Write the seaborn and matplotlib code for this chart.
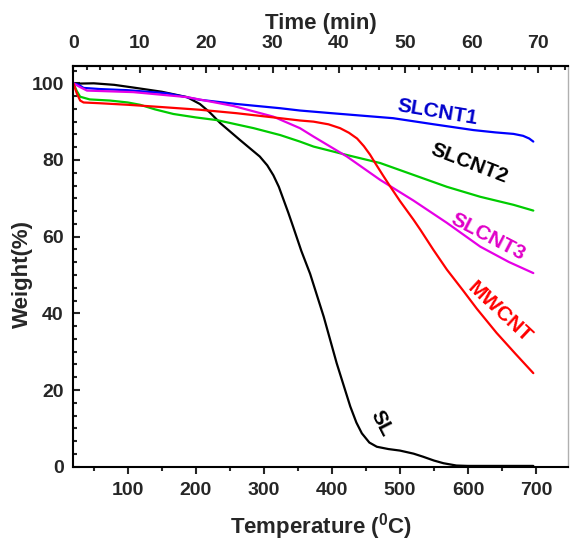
import numpy as np
import pandas as pd
import seaborn as sns
import matplotlib.pyplot as plt
from matplotlib.ticker import MultipleLocator, AutoMinorLocator, FixedLocator

# TGA curves (temperature in C, weight in %)
sl_temp = [20, 50, 80, 108, 150, 187, 206, 220, 236, 265, 294, 305, 314, 322, 329, 336, 343, 355, 368,
           388, 407, 427, 436, 444, 455, 466, 483, 500, 520, 534, 550, 564, 583, 600, 650, 696]
sl_weight = [99.9, 100.0, 99.6, 98.9, 97.8, 96.4, 94.6, 92.5, 89.6, 85.2, 80.9, 78.6, 76.0, 73.0, 69.6, 66.2, 62.6, 56.3, 50.3,
             39.1, 27.0, 15.7, 11.5, 8.7, 6.3, 5.2, 4.6, 4.2, 3.4, 2.6, 1.6, 0.9, 0.3, 0.2, 0.2, 0.2]

slcnt1_temp = [20, 28, 35, 59, 100, 157, 206, 260, 324, 353, 400, 490, 550, 608, 640, 667, 681, 690, 696]
slcnt1_weight = [100.0, 99.6, 98.8, 98.5, 98.2, 97.4, 95.7, 94.6, 93.5, 92.9, 92.2, 90.9, 89.3, 87.8, 87.2,
                 86.8, 86.3, 85.6, 84.8]

slcnt2_temp = [20, 25, 30, 44, 74, 100, 118, 140, 167, 200, 231, 285, 324, 353, 373, 422, 471, 520, 569, 618,
               667, 696]
slcnt2_weight = [100.0, 98.0, 96.5, 95.8, 95.5, 95.0, 94.4, 93.2, 92.0, 91.1, 90.4, 88.3, 86.5, 84.8, 83.5,
                 81.3, 79.2, 76.1, 73.0, 70.4, 68.3, 66.8]

slcnt3_temp = [20, 30, 40, 108, 187, 255, 314, 353, 373, 422, 471, 520, 569, 618, 660, 696]
slcnt3_weight = [100.0, 99.0, 98.1, 97.7, 96.4, 94.1, 91.3, 88.3, 86.1, 80.9, 74.8, 69.4, 63.6, 57.4, 53.4, 50.5]

mwcnt_temp = [20, 25, 30, 35, 59, 100, 150, 206, 260, 324, 353, 373, 395, 412, 425, 437, 447, 456, 465,
              475, 486, 500, 520, 530, 549, 569, 593, 613, 642, 670, 696]
mwcnt_weight = [100.0, 97.4, 95.5, 95.0, 94.8, 94.4, 93.8, 93.1, 92.2, 90.9, 90.3, 90.0, 89.3, 88.3, 87.1,
                85.6, 83.6, 81.4, 78.8, 76.0, 73.0, 69.3, 64.4, 61.8, 56.6, 51.4, 45.9, 41.2, 34.9, 29.4, 24.4]

samples = ["SL", "SLCNT1", "SLCNT2", "SLCNT3", "MWCNT"]
line_colors = ["#000000", "#0000FF", "#00CC00", "#E600E6", "#FF0000"]
label_colors = ["#000000", "#0000CC", "#000000", "#E000C8", "#FF0000"]

heat_start = 20.0   # C at time zero
heat_rate = 9.76    # C per min

series = {
    "SL": (sl_temp, sl_weight),
    "SLCNT1": (slcnt1_temp, slcnt1_weight),
    "SLCNT2": (slcnt2_temp, slcnt2_weight),
    "SLCNT3": (slcnt3_temp, slcnt3_weight),
    "MWCNT": (mwcnt_temp, mwcnt_weight),
}
df = pd.concat(
    [pd.DataFrame({"Temperature": t, "Weight": w, "Sample": name}) for name, (t, w) in series.items()],
    ignore_index=True,
)

sns.set_style("ticks")
plt.rcParams["font.family"] = ["Liberation Sans", "DejaVu Sans"]
plt.rcParams["font.weight"] = "bold"
plt.rcParams["mathtext.fontset"] = "custom"
plt.rcParams["mathtext.bf"] = "Liberation Sans:bold"
plt.rcParams["mathtext.rm"] = "Liberation Sans:bold"

fig = plt.figure(figsize=(5.7, 5.45), dpi=100)
ax = fig.add_axes([0.1287, 0.1437, 0.8684, 0.7358])

sns.lineplot(data=df, x="Temperature", y="Weight", hue="Sample", hue_order=samples,
             palette=dict(zip(samples, line_colors)), estimator=None, sort=False,
             lw=1.6, legend=False, ax=ax)

ax.set_xlim(20, 747.5)
ax.set_ylim(0, 104.6)
ax.xaxis.set_major_locator(MultipleLocator(100))
ax.xaxis.set_minor_locator(MultipleLocator(50))
ax.yaxis.set_major_locator(MultipleLocator(20))
ax.yaxis.set_minor_locator(AutoMinorLocator(6))

ax.tick_params(axis="x", which="both", direction="out", bottom=True, top=False, width=1.5, labelsize=14, pad=6)
ax.tick_params(axis="y", which="both", direction="in", left=True, right=False, width=1.5, labelsize=14, pad=7)
ax.tick_params(which="major", length=5)
ax.tick_params(which="minor", length=3)

ax.set_xlabel(r"Temperature ($^\mathbf{0}$C)", fontsize=16, fontweight="bold", labelpad=9)
ax.set_ylabel("Weight(%)", fontsize=16, fontweight="bold")
ax.yaxis.set_label_coords(-0.082, 0.48)

for side in ["left", "bottom", "top"]:
    ax.spines[side].set_linewidth(1.5)
    ax.spines[side].set_color("black")
ax.spines["right"].set_linewidth(1.0)
ax.spines["right"].set_color("#b0b0b0")

top = ax.secondary_xaxis("top", functions=(lambda t: (t - heat_start) / heat_rate,
                                           lambda m: m * heat_rate + heat_start))
top.xaxis.set_major_locator(FixedLocator(list(range(0, 80, 10))))
top.xaxis.set_minor_locator(FixedLocator(list(range(0, 75, 2))))
top.tick_params(which="both", direction="in", width=1.5, labelsize=14, pad=10)
top.tick_params(which="major", length=5)
top.tick_params(which="minor", length=3)
top.spines["top"].set_linewidth(1.5)
top.set_xlabel("Time (min)", fontsize=16, fontweight="bold", labelpad=4)

# curve labels
label_pos = {
    "SL": (473, 11.4, -63),
    "SLCNT1": (555, 92.5, -9.5),
    "SLCNT2": (602, 79.1, -21),
    "SLCNT3": (630, 60.0, -27.5),
    "MWCNT": (646, 40.4, -43),
}
for name, col in zip(samples, label_colors):
    x, y, rot = label_pos[name]
    ax.text(x, y, name, color=col, fontsize=15, fontweight="bold", rotation=rot,
            rotation_mode="anchor", ha="center", va="center")

fig.savefig("out.png", dpi=100)
